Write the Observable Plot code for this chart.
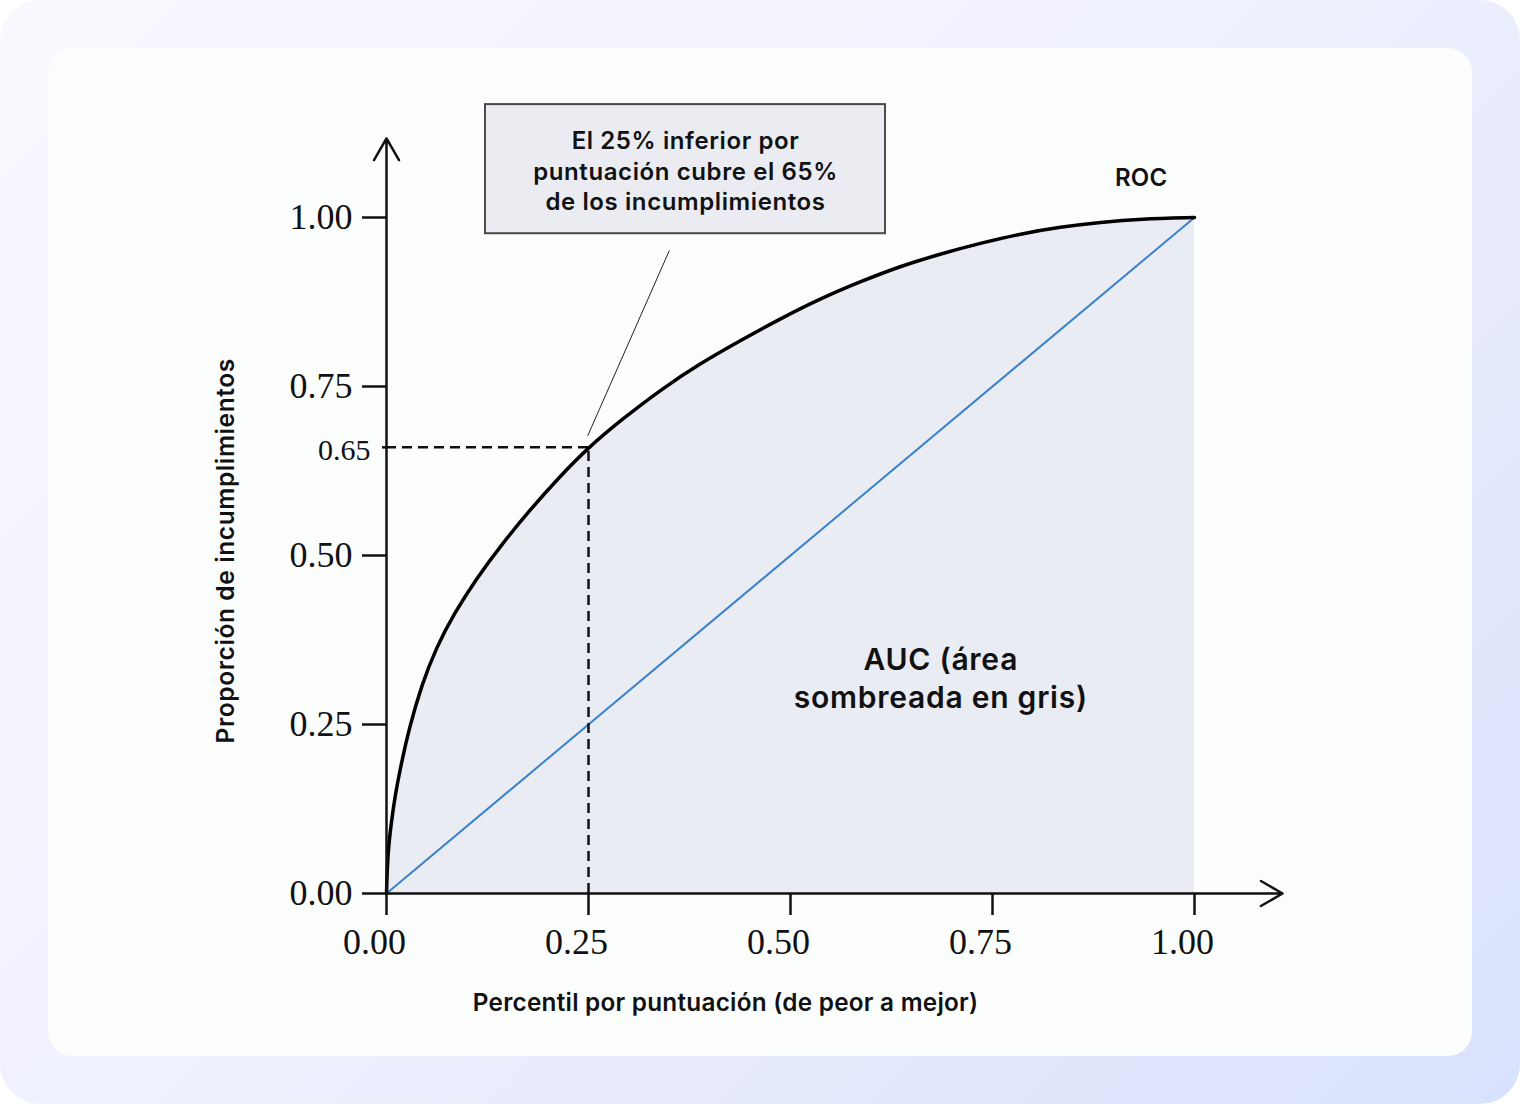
<!DOCTYPE html>
<html>
<head>
<meta charset="utf-8">
<script src="https://cdn.jsdelivr.net/npm/d3@7"></script>
<script src="https://cdn.jsdelivr.net/npm/@observablehq/plot@0.6"></script>
<style>
  html, body { margin: 0; padding: 0; background: #ffffff; }
  #bg {
    position: absolute; left: 0; top: 0; width: 1520px; height: 1104px;
    border-radius: 40px;
    background: linear-gradient(135deg, #faf8ff 0%, #eef0fd 50%, #d9e1fc 100%);
  }
  #card {
    position: absolute; left: 48px; top: 48px; width: 1424px; height: 1008px;
    border-radius: 24px; background: #fcfdfd;
  }
  #chart { position: absolute; left: 0; top: 0; }
  #chart svg { overflow: visible; }
  #chart g[font-family^="Inter"] { letter-spacing: 0.025em; }
</style>
</head>
<body>
<div id="bg"></div>
<div id="card"></div>
<div id="chart"></div>
<script>
// ROC curve (x: percentile by score, y: share of defaults)
const fpr = [0, 0.001, 0.003, 0.006, 0.01, 0.017, 0.028, 0.044, 0.061, 0.083, 0.112, 0.143, 0.178, 0.213, 0.25,
             0.29, 0.339, 0.388, 0.438, 0.487, 0.537, 0.586, 0.636, 0.685, 0.735, 0.785, 0.834, 0.884, 0.933, 1.0];
const tpr = [0, 0.04, 0.075, 0.105, 0.14, 0.185, 0.245, 0.31, 0.362, 0.413, 0.467, 0.517, 0.568, 0.615, 0.66,
             0.70, 0.745, 0.784, 0.818, 0.85, 0.88, 0.905, 0.928, 0.946, 0.962, 0.976, 0.986, 0.993, 0.998, 1.0];

// chance (diagonal) line
const chanceX = [0, 1];
const chanceY = [0, 1];

// axis ticks
const xTicks = [0, 0.25, 0.5, 0.75, 1];
const yTicks = [0, 0.25, 0.5, 0.75, 1];

// highlighted cut point
const cutX = [0.25];
const cutY = [0.66];
const cutLabel = ["0.65"];

// texts
const boxText = "El 25% inferior por\npuntuación cubre el 65%\nde los incumplimientos";
const rocText = "ROC";
const aucText = "AUC (área\nsombreada en gris)";
const xTitle = "Percentil por puntuación (de peor a mejor)";
const yTitle = "Proporción de incumplimientos";

// annotation layout (data units)
const axisArrows = [
  {x1: 0, y1: 0, x2: 0, y2: 1.117},
  {x1: 0, y1: 0, x2: 1.109, y2: 0}
];
const box = {x1: 0.1225, x2: 0.6176, y1: 0.976, y2: 1.167};
const leader = {x1: 0.350, y1: 0.951, x2: 0.249, y2: 0.677};
const labels = [
  {x: 0.934, y: 1.058, text: rocText, size: 24},
  {x: 0.4196, y: -0.163, text: xTitle, size: 24.3}
];

const roc = fpr.map((x, i) => ({x, y: tpr[i]}));
const chance = chanceX.map((x, i) => ({x, y: chanceY[i]}));
const cut = cutX.map((x, i) => ({x, y: cutY[i], label: cutLabel[i]}));

const sans = "Inter, 'Noto Sans', sans-serif";
const serif = "'Liberation Serif', 'DejaVu Serif', serif";
const ink = "#111111";
const f2 = d3.format(".2f");

const chart = Plot.plot({
  width: 1520,
  height: 1112,
  marginLeft: 386,
  marginRight: 326,
  marginTop: 217,
  marginBottom: 219,
  style: {background: "transparent", overflow: "visible"},
  x: {domain: [0, 1]},
  y: {domain: [0, 1]},
  marks: [
    Plot.areaY(roc, {x: "x", y: "y", fill: "#eaecf3", curve: "basis"}),
    Plot.line(chance, {x: "x", y: "y", stroke: "#3a82cc", strokeWidth: 2}),
    Plot.ruleY(cut, {y: "y", x1: () => 0, x2: "x", stroke: ink, strokeWidth: 2.5, strokeDasharray: "10,6"}),
    Plot.ruleX(cut, {x: "x", y1: () => 0, y2: "y", stroke: ink, strokeWidth: 2.5, strokeDasharray: "10,6"}),
    Plot.line(roc, {x: "x", y: "y", stroke: "#000", strokeWidth: 3.5, curve: "basis"}),
    // x ticks and labels
    Plot.axisX({ticks: xTicks, tickFormat: () => "", tickSize: 22, strokeWidth: 2.5, stroke: ink, label: null}),
    Plot.axisX({ticks: xTicks, tickFormat: f2, tickSize: 0, tickPadding: 35, fill: ink,
      fontSize: 36, fontFamily: serif, dx: -12, label: null}),
    // y ticks and labels
    Plot.axisY({ticks: yTicks, tickFormat: f2, tickSize: 24, tickPadding: 10,
      strokeWidth: 2.5, stroke: ink, fill: ink, fontSize: 36, fontFamily: serif, label: null}),
    Plot.axisY({ticks: cutY, tickFormat: () => "", tickSize: 4, strokeWidth: 2.5, stroke: ink, label: null}),
    Plot.axisY({ticks: cutY, tickFormat: d => cutLabel[cutY.indexOf(d)], tickSize: 0, tickPadding: 16,
      fill: ink, fontSize: 30, fontFamily: serif, dy: 3, label: null}),
    Plot.arrow(axisArrows, {x1: "x1", y1: "y1", x2: "x2", y2: "y2", stroke: ink, strokeWidth: 2.5,
      headLength: 15, headAngle: 60}),
    Plot.link([leader], {x1: "x1", y1: "y1", x2: "x2", y2: "y2", stroke: "#222", strokeWidth: 1}),
    Plot.rect([box], {x1: "x1", x2: "x2", y1: "y1", y2: "y2", fill: "#eaecf2", stroke: "#4a4a4a", strokeWidth: 2}),
    Plot.text([boxText], {x: () => (box.x1 + box.x2) / 2, y: () => (box.y1 + box.y2) / 2 - 0.001,
      text: d => d, fontSize: 24, fontWeight: 600, fontFamily: sans, fill: ink, lineHeight: 1.27}),
    Plot.text([aucText], {x: () => 0.686, y: () => 0.320, text: d => d, fontSize: 30, fontWeight: 600,
      fontFamily: sans, fill: ink, lineHeight: 1.25}),
    Plot.text(labels, {x: "x", y: "y", text: "text", fontSize: "size", fontWeight: 600, fontFamily: sans, fill: ink}),
    Plot.text([yTitle], {x: () => -0.199, y: () => 0.507, text: d => d, rotate: -90, fontSize: 24.5,
      fontWeight: 600, fontFamily: sans, fill: ink})
  ]
});
document.getElementById("chart").appendChild(chart);
</script>
</body>
</html>
